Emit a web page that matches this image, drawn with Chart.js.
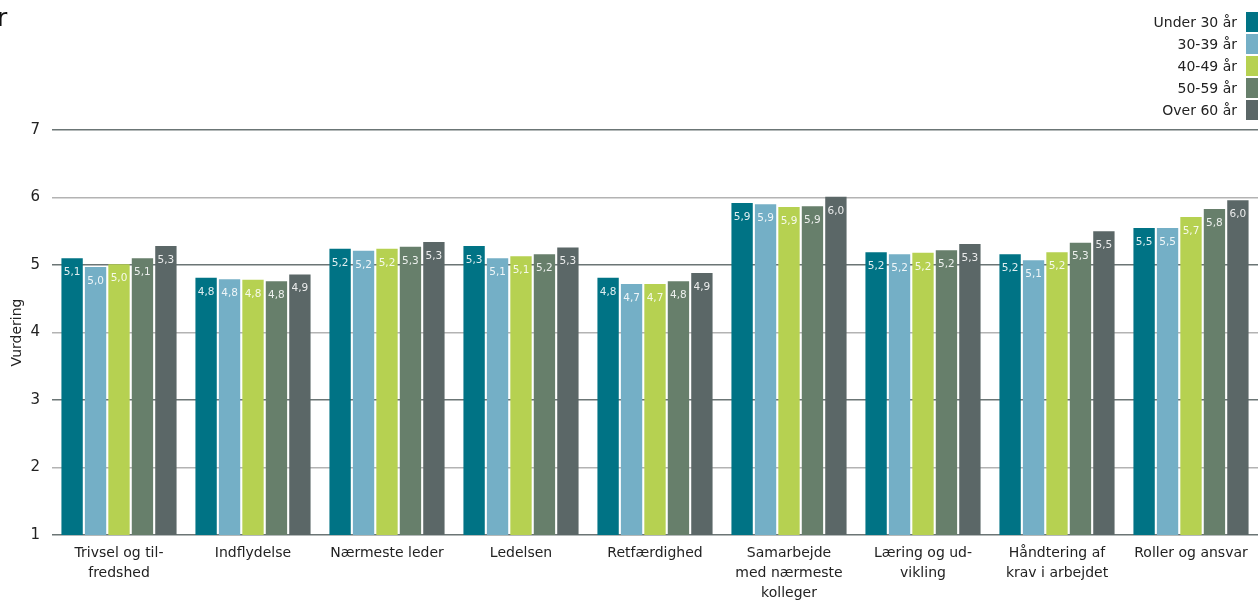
<!DOCTYPE html>
<html lang="da">
<head>
<meta charset="utf-8">
<title>Vurdering fordelt på alder</title>
<script src="https://cdn.jsdelivr.net/npm/chart.js@4"></script>
<style>
  html, body { margin: 0; padding: 0; background: #fff; overflow: hidden; }
  #wrap { position: relative; width: 1258px; height: 601px; }
  #titel {
    position: absolute; left: -3px; top: 3px;
    font: 25px "DejaVu Sans", sans-serif; color: #111;
  }
  #legende {
    position: absolute; right: 0; top: 12px;
    font: 14px "DejaVu Sans", sans-serif; color: #222;
  }
  #legende .row {
    display: flex; justify-content: flex-end; align-items: center;
    height: 20px; margin-bottom: 2px;
  }
  #legende .box { width: 12px; height: 20px; margin-left: 9px; }
</style>
</head>
<body>
<div id="wrap">
  <canvas id="myChart" width="1258" height="601"></canvas>
  <div id="titel">r</div>
  <div id="legende"></div>
</div>
<script>
const categories = [
  ["Trivsel og til-", "fredshed"],
  "Indflydelse",
  "Nærmeste leder",
  "Ledelsen",
  "Retfærdighed",
  ["Samarbejde", "med nærmeste", "kolleger"],
  ["Læring og ud-", "vikling"],
  ["Håndtering af", "krav i arbejdet"],
  "Roller og ansvar"
];

const seriesNames = ["Under 30 år", "30-39 år", "40-49 år", "50-59 år", "Over 60 år"];

const under30 = [5.10, 4.81, 5.24, 5.28, 4.81, 5.92, 5.19, 5.16, 5.55];
const age3039 = [4.97, 4.79, 5.21, 5.10, 4.72, 5.90, 5.16, 5.07, 5.55];
const age4049 = [5.01, 4.78, 5.24, 5.13, 4.72, 5.86, 5.18, 5.19, 5.71];
const age5059 = [5.10, 4.76, 5.27, 5.16, 4.76, 5.87, 5.22, 5.33, 5.83];
const over60  = [5.28, 4.86, 5.34, 5.26, 4.88, 6.01, 5.31, 5.50, 5.96];

const yTicks = [1, 2, 3, 4, 5, 6, 7];

const farver = ["#007385", "#74afc6", "#b6d151", "#677f6b", "#5b6767"];

document.addEventListener("DOMContentLoaded", () => {
  const canvas = document.getElementById("myChart");
  if (!canvas) return;
  const ctx = canvas.getContext("2d");

  const alleSerier = [under30, age3039, age4049, age5059, over60];

  // legende i html (tekst til venstre, farvefelt til højre)
  const legende = document.getElementById("legende");
  seriesNames.forEach((navn, i) => {
    const row = document.createElement("div");
    row.className = "row";
    row.innerHTML = '<span>' + navn + '</span><span class="box" style="background:' + farver[i] + '"></span>';
    legende.appendChild(row);
  });

  // værdier skrives øverst inde i søjlerne
  const vaerdiLabels = {
    id: "vaerdiLabels",
    afterDatasetsDraw(chart) {
      const c = chart.ctx;
      c.save();
      c.font = "10.5px 'DejaVu Sans', sans-serif";
      c.textAlign = "center";
      c.textBaseline = "middle";
      c.fillStyle = "rgba(255,255,255,0.88)";
      chart.data.datasets.forEach((ds, di) => {
        chart.getDatasetMeta(di).data.forEach((bar, i) => {
          const txt = ds.data[i].toFixed(1).replace(".", ",");
          c.fillText(txt, bar.x, bar.y + 14);
        });
      });
      c.restore();
    }
  };

  new Chart(ctx, {
    type: "bar",
    data: {
      labels: categories,
      datasets: seriesNames.map((navn, i) => ({
        label: navn,
        data: alleSerier[i],
        backgroundColor: farver[i],
        borderWidth: 0,
        categoryPercentage: 0.875,
        barPercentage: 0.91
      }))
    },
    options: {
      responsive: false,
      animation: false,
      layout: { padding: { top: 130, right: 0, bottom: 0, left: 0 } },
      plugins: {
        legend: { display: false },
        tooltip: { enabled: false }
      },
      scales: {
        x: {
          grid: { display: false },
          border: { display: false },
          ticks: {
            color: "#222",
            font: { family: "'DejaVu Sans', sans-serif", size: 14, lineHeight: 1.43 },
            padding: 0,
            maxRotation: 0,
            autoSkip: false
          },
          afterFit(scale) { scale.height = 66; }
        },
        y: {
          min: 1,
          max: 7,
          afterBuildTicks(scale) { scale.ticks = yTicks.map(v => ({ value: v })); },
          border: { display: false },
          grid: {
            drawTicks: false,
            lineWidth: 1.5,
            color: (c) => (c.tick && c.tick.value % 2 === 1) ? "#6b7575" : "#b3b3b3"
          },
          ticks: {
            color: "#222",
            font: { family: "'DejaVu Sans', sans-serif", size: 15 },
            padding: 12
          },
          title: {
            display: true,
            text: "Vurdering",
            color: "#222",
            font: { family: "'DejaVu Sans', sans-serif", size: 14 },
            padding: { top: 9, bottom: 0 }
          },
          afterFit(scale) { scale.width = 52; }
        }
      }
    },
    plugins: [vaerdiLabels]
  });
});
</script>
</body>
</html>
